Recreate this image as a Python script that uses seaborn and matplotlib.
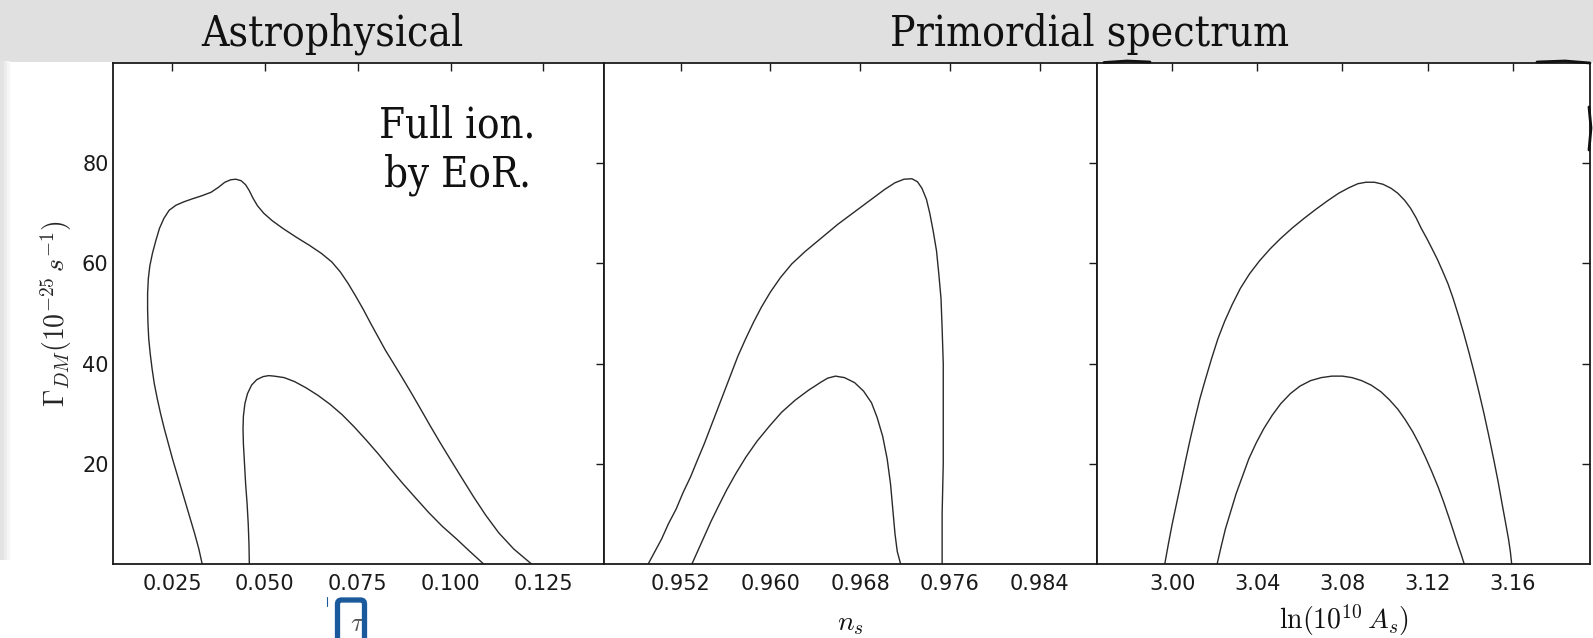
import matplotlib
matplotlib.use("Agg")
import matplotlib.pyplot as plt
import seaborn as sns
from matplotlib.patches import Rectangle, FancyBboxPatch
from matplotlib.lines import Line2D
from matplotlib.transforms import IdentityTransform

# ---------------- data ----------------
gamma_ticks = [20, 40, 60, 80]
gamma_lim = [0, 100]

tau_ticks = [0.025, 0.050, 0.075, 0.100, 0.125]
tau_ticklabels = ["0.025", "0.050", "0.075", "0.100", "0.125"]
tau_lim = [0.009, 0.1414]
tau_outer = [0.0331, 0.0322, 0.0311, 0.0299, 0.0287, 0.0275, 0.0263, 0.0251, 0.0240, 0.0229,
             0.0219, 0.0210, 0.0202, 0.0196, 0.0191, 0.0187, 0.0185, 0.0184, 0.0184, 0.0186,
             0.0190, 0.0197, 0.0206, 0.0216, 0.0228, 0.0242, 0.0260, 0.0282, 0.0305, 0.0330,
             0.0355, 0.0375, 0.0392, 0.0408, 0.0422, 0.0436, 0.0448, 0.0458, 0.0468, 0.0480,
             0.0497, 0.0520, 0.0550, 0.0585, 0.0620, 0.0652, 0.0680, 0.0703, 0.0724, 0.0745,
             0.0765, 0.0785, 0.0805, 0.0825, 0.0845, 0.0868, 0.0893, 0.0918, 0.0945, 0.0972,
             0.1000, 0.1030, 0.1062, 0.1095, 0.1130, 0.1170, 0.1218]
tau_outer_gamma = [0, 3, 6, 9, 12, 15, 18, 21, 24, 27,
                   30, 33, 36, 39, 42, 45, 48, 51, 54, 57,
                   59.5, 62, 64.5, 67, 69, 70.6, 71.6, 72.3, 72.9, 73.5,
                   74.2, 75.2, 76.2, 76.7, 76.8, 76.5, 75.7, 74.5, 73, 71.5,
                   70, 68.5, 66.9, 65.2, 63.6, 62, 60.3, 58.3, 56, 53.4,
                   50.8, 48, 45.3, 42.6, 40.2, 37.4, 34.3, 31.1, 27.6, 24.2,
                   20.8, 17.2, 13.4, 9.7, 6.2, 3, 0]
tau_inner = [0.0458, 0.0457, 0.0455, 0.0452, 0.0448, 0.0445, 0.0442, 0.0441, 0.0442, 0.0446,
             0.0453, 0.0464, 0.0478, 0.0495, 0.0510, 0.0525, 0.0552, 0.0580, 0.0610, 0.0642,
             0.0675, 0.0708, 0.0740, 0.0772, 0.0805, 0.0838, 0.0872, 0.0908, 0.0942, 0.0978,
             0.1016, 0.1052, 0.1089]
tau_inner_gamma = [0, 4, 8, 12, 16, 20, 24, 27, 29.5, 32,
                   34, 35.7, 36.8, 37.4, 37.6, 37.5, 37.2, 36.4, 35.2, 33.7,
                   31.9, 29.8, 27.4, 24.8, 22, 19, 16, 13, 10.2, 7.5,
                   5, 2.5, 0]

ns_ticks = [0.952, 0.960, 0.968, 0.976, 0.984]
ns_ticklabels = ["0.952", "0.960", "0.968", "0.976", "0.984"]
ns_lim = [0.94519, 0.98913]
ns_outer = [0.9491, 0.9497, 0.9503, 0.9509, 0.9516, 0.9522, 0.9529, 0.9535, 0.9541, 0.9547,
            0.9553, 0.9559, 0.9565, 0.9571, 0.9578, 0.9585, 0.9592, 0.9600, 0.9609, 0.9619,
            0.9631, 0.9645, 0.9660, 0.9675, 0.9690, 0.9702, 0.9711, 0.9719, 0.9726, 0.9731,
            0.9735, 0.9739, 0.9742, 0.9745, 0.9748, 0.9750, 0.9752, 0.9753, 0.9754, 0.9754,
            0.9754, 0.9753, 0.9753]
ns_outer_gamma = [0, 2.5, 5, 8, 11, 14.2, 17.5, 20.8, 24, 27.5,
                  31, 34.5, 38, 41.5, 45, 48.3, 51.3, 54.3, 57.2, 59.9,
                  62.4, 65, 67.8, 70.3, 72.8, 74.8, 76.1, 76.8, 76.9, 76.3,
                  75, 72.8, 70, 66.5, 62.5, 58, 53, 47, 40, 30,
                  20, 10, 0]
ns_inner = [0.9530, 0.9535, 0.9541, 0.9547, 0.9554, 0.9561, 0.9569, 0.9578, 0.9588, 0.9599,
            0.9610, 0.9622, 0.9634, 0.9645, 0.9651, 0.9658, 0.9666, 0.9675, 0.9683, 0.9690,
            0.9695, 0.9700, 0.9704, 0.9707, 0.9709, 0.9711, 0.9713, 0.9716]
ns_inner_gamma = [0, 2.5, 5.5, 8.5, 11.7, 14.8, 18, 21.3, 24.5, 27.5,
                  30.3, 32.7, 34.7, 36.3, 37.1, 37.5, 37.2, 36.2, 34.5, 32.2,
                  29.3, 25.5, 21, 16, 11, 6, 2.5, 0]

lnA_ticks = [3.00, 3.04, 3.08, 3.12, 3.16]
lnA_ticklabels = ["3.00", "3.04", "3.08", "3.12", "3.16"]
lnA_lim = [2.9648, 3.1963]
lnA_outer = [2.9965, 2.9982, 3.0000, 3.0020, 3.0040, 3.0062, 3.0085, 3.0107, 3.0130, 3.0157,
             3.0185, 3.0215, 3.0247, 3.0282, 3.0320, 3.0363, 3.0410, 3.0460, 3.0510, 3.0565,
             3.0620, 3.0675, 3.0730, 3.0782, 3.0830, 3.0872, 3.0910, 3.0950, 3.0990, 3.1028,
             3.1060, 3.1092, 3.1120, 3.1146, 3.1170, 3.1196, 3.1220, 3.1246, 3.1270, 3.1296,
             3.1320, 3.1345, 3.1370, 3.1395, 3.1420, 3.1443, 3.1465, 3.1488, 3.1510, 3.1531,
             3.1550, 3.1566, 3.1580, 3.1589, 3.1595]
lnA_outer_gamma = [0, 4, 8, 12, 16, 20.5, 25, 29, 33, 37,
                   41, 45, 48.5, 51.8, 55, 57.9, 60.5, 62.9, 65, 67.1,
                   69, 70.8, 72.5, 74, 75.1, 75.9, 76.2, 76.2, 75.8, 75.0,
                   74, 72.6, 71, 69.1, 67, 65, 63, 60.8, 58.5, 55.9,
                   53, 49.6, 46, 42.1, 38, 34, 30, 25.5, 21, 16.5,
                   12, 8.3, 5, 2.4, 0]
lnA_inner = [3.0211, 3.0230, 3.0250, 3.0275, 3.0300, 3.0330, 3.0360, 3.0395, 3.0430, 3.0470,
             3.0510, 3.0555, 3.0600, 3.0650, 3.0700, 3.0750, 3.0800, 3.0845, 3.0890, 3.0935,
             3.0980, 3.1020, 3.1060, 3.1095, 3.1130, 3.1160, 3.1190, 3.1220, 3.1250, 3.1276,
             3.1300, 3.1321, 3.1340, 3.1357, 3.1372]
lnA_inner_gamma = [0, 3.5, 7, 10.5, 14, 17.5, 21, 24.2, 27, 29.7,
                   32, 34, 35.5, 36.6, 37.2, 37.5, 37.5, 37.2, 36.6, 35.7,
                   34.4, 32.8, 30.9, 28.8, 26.4, 24, 21.3, 18.4, 15.3, 12.3,
                   9.3, 6.6, 4.1, 2, 0]

header_titles = ["Astrophysical", "Primordial spectrum"]
annotation_lines = ["Full ion.", "by EoR."]
x_labels = [r"$\tau$", r"$n_s$", r"$\ln(10^{10}\,A_s)$"]
y_label = r"$\Gamma_{DM}(10^{-25}\,s^{-1})$"

# ---------------- style ----------------
sns.set_style("white")
plt.rcParams['font.family'] = ['DejaVu Sans']
plt.rcParams['mathtext.fontset'] = 'cm'

W, H = 1593, 638
fig = plt.figure(figsize=(W / 100, H / 100), dpi=100)
fig.patch.set_facecolor("white")


def fx(px):
    return px / W


def fy(py):
    return 1 - py / H


# header band and left strip
fig.add_artist(Rectangle((0, fy(61.5)), 1, 61.5 / H, transform=fig.transFigure,
                         facecolor="#e0e0e0", edgecolor="none", zorder=0))
for x0, x1, c in [(0, 4, "#e3e3e3"), (4, 7, "#ededed"), (7, 10, "#f6f6f6")]:
    fig.add_artist(Rectangle((fx(x0), fy(560)), (x1 - x0) / W, (560 - 61.5) / H,
                             transform=fig.transFigure, facecolor=c, edgecolor="none", zorder=0))

bottom_px, top_px = 564, 63
panel_px = [(112.7, 604.3), (604.3, 1097.3), (1097.3, 1590.0)]

panels = [
    (tau_outer, tau_outer_gamma, tau_inner, tau_inner_gamma, tau_ticks, tau_ticklabels, tau_lim),
    (ns_outer, ns_outer_gamma, ns_inner, ns_inner_gamma, ns_ticks, ns_ticklabels, ns_lim),
    (lnA_outer, lnA_outer_gamma, lnA_inner, lnA_inner_gamma, lnA_ticks, lnA_ticklabels, lnA_lim),
]
label_pads = [10.5, 10.5, 5.5]
line_color = "#2a2a2a"

axes = []
for i, ((l, r), (xo, yo, xi, yi, xt, xtl, xl)) in enumerate(zip(panel_px, panels)):
    ax = fig.add_axes([fx(l), fy(bottom_px), (r - l) / W, (bottom_px - top_px) / H])
    sns.lineplot(x=xo, y=yo, sort=False, estimator=None, color=line_color, lw=1.0, ax=ax)
    sns.lineplot(x=xi, y=yi, sort=False, estimator=None, color=line_color, lw=1.0, ax=ax)
    ax.set_xlim(xl)
    ax.set_ylim(gamma_lim)
    ax.set_xticks(xt)
    ax.set_xticklabels(xtl)
    ax.set_yticks(gamma_ticks)
    ax.tick_params(direction="in", length=5.5, width=1.0, top=True, right=True,
                   labelsize=15, colors="#1a1a1a", pad=7.5)
    ax.tick_params(axis="y", pad=3)
    if i == 0:
        ax.set_yticklabels([str(v) for v in gamma_ticks])
        ax.set_ylabel(y_label, fontsize=20, labelpad=6)
    else:
        ax.tick_params(axis="y", labelleft=False)
        ax.set_ylabel("")
    ax.set_xlabel(x_labels[i], fontsize=20, labelpad=label_pads[i],
                  color="#555555" if i == 0 else "#111111")
    for s in ax.spines.values():
        s.set_visible(True)
        s.set_linewidth(1.3)
        s.set_color("#1a1a1a")
    axes.append(ax)

# header titles
serif_kw = dict(ha="center", va="center", family="DejaVu Serif", fontstretch="condensed",
                color="#111111")
fig.text(fx(332), fy(34), header_titles[0], fontsize=30.5, **serif_kw)
fig.text(fx(1090), fy(34), header_titles[1], fontsize=30.5, **serif_kw)

# annotation in panel 1
fig.text(fx(457), fy(126), annotation_lines[0], fontsize=30, **serif_kw)
fig.text(fx(457), fy(175), annotation_lines[1], fontsize=30, **serif_kw)

# blue highlight box around the tau label (clipped at bottom)
blue = "#1a5a9c"
box = FancyBboxPatch((337.5, H - 670), 27, 670 - 600, boxstyle="round,pad=0,rounding_size=4",
                     transform=IdentityTransform(), facecolor="none", edgecolor=blue,
                     linewidth=3.8, zorder=10)
fig.add_artist(box)
fig.add_artist(Line2D([327, 327], [H - 597, H - 606], transform=IdentityTransform(),
                      color=blue, lw=0.8, zorder=10))

# stray dark strokes along the top/right border of the last panel
for xs, ys in [([1104, 1127, 1150], [62.5, 61.0, 62.0]),
               ([1537, 1565, 1590], [62.0, 61.0, 63.0]),
               ([1589, 1591, 1589], [107, 128, 150])]:
    fig.add_artist(Line2D(xs, [H - y for y in ys], transform=IdentityTransform(),
                          color="#111111", lw=2.0, zorder=10, solid_capstyle="round"))

fig.savefig("out.png", dpi=100, facecolor="white")
